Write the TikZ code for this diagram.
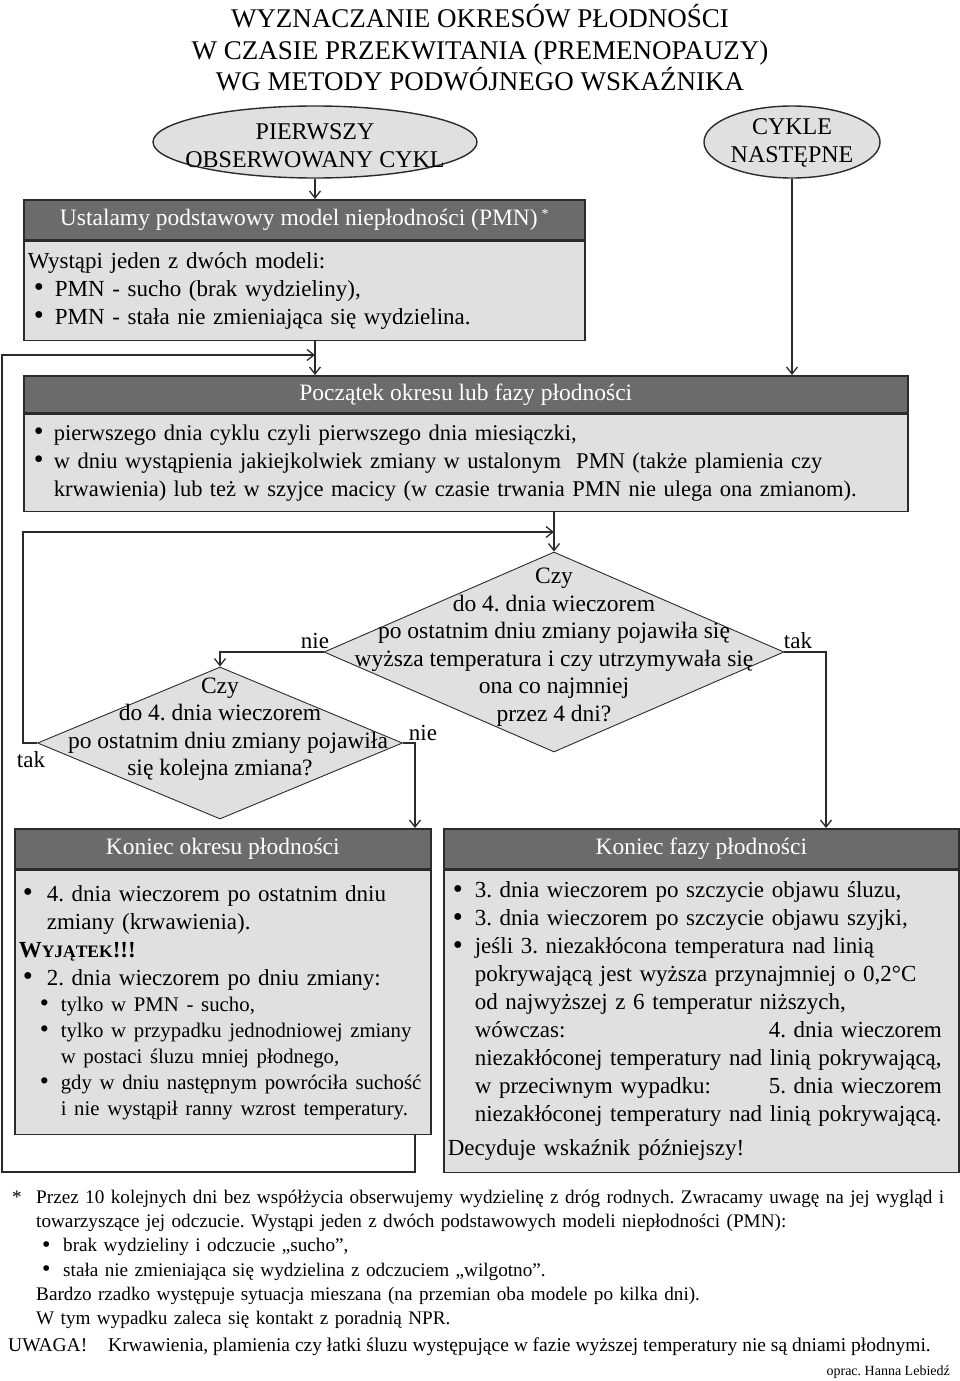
\documentclass[tikz,border=0pt]{standalone}
\usepackage{fontspec}
\setmainfont{Liberation Serif}
\usetikzlibrary{arrows.meta, positioning, shapes.geometric}
\definecolor{hdrgray}{HTML}{6B6B6B}
\definecolor{boxgray}{HTML}{E0E0E0}
\definecolor{edgegray}{HTML}{2B2B2B}
\frenchspacing
\hyphenpenalty=10000
\exhyphenpenalty=10000
\newcommand\bul[3]{\hangindent=#2\hangafter=1\noindent\makebox[#2][l]{\hspace*{#1}\raisebox{-0.3pt}{\scalebox{1.25}{\textbullet}}}#3\par}
\tikzset{
  hdr/.style={rectangle, draw=edgegray, fill=hdrgray, line width=1.6pt, text=white,
              anchor=north west, inner sep=0pt, font=\fontsize{23.5}{26}\selectfont},
  bdy/.style={rectangle, draw=edgegray, fill=boxgray, line width=1.6pt, anchor=north west,
              inner xsep=4pt, inner ysep=4pt, align=left, font=\fontsize{23}{28}\selectfont},
  oval/.style={ellipse, draw=edgegray, fill=boxgray, line width=1.4pt, inner sep=0pt},
  dmd/.style={diamond, draw=edgegray, fill=boxgray, line width=0.9pt, inner sep=0pt},
  qtxt/.style={align=center, font=\fontsize{23.5}{27.5}\selectfont, inner sep=0pt},
  lbl/.style={font=\fontsize{23}{26}\selectfont, inner sep=0pt},
  note/.style={align=left, inner sep=0pt, font=\fontsize{19.2}{24.2}\selectfont},
  arr/.style={line width=1.3pt, draw=edgegray, -{Straight Barb[length=7pt, width=11pt]}},
  ln/.style={line width=1.3pt, draw=edgegray},
}
\begin{document}
\begin{tikzpicture}[x=1pt, y=-1pt]
  \useasboundingbox (0,0) rectangle (960,1381);
  % title
  \node[align=center, font=\fontsize{27}{31.5}\selectfont] (title) at (480,48)
    {WYZNACZANIE OKRESÓW PŁODNOŚCI\\W CZASIE PRZEKWITANIA (PREMENOPAUZY)\\WG METODY PODWÓJNEGO WSKAŹNIKA};
  % start ovals
  \node[oval, minimum width=324pt, minimum height=72pt] (e1) at (315,142) {};
  \node[qtxt, font=\fontsize{24}{28}\selectfont] (e1t) at (315,146) {PIERWSZY\\OBSERWOWANY CYKL};
  \node[oval, minimum width=176pt, minimum height=72pt] (e2) at (792,142) {};
  \node[qtxt, font=\fontsize{24}{28}\selectfont] (e2t) at (792,143) {CYKLE\\NASTĘPNE};
  % basic infertile pattern
  \node[hdr, minimum width=561pt, minimum height=40pt] (pmnh) at (23,199)
    {Ustalamy podstawowy model niepłodności (PMN)\,\raisebox{7pt}{\fontsize{14}{14}\selectfont *}};
  \node[bdy, text width=553pt, minimum height=99pt] (pmnb) at (pmnh.south west)
    {Wystąpi jeden z dwóch modeli:\par
     \bul{6pt}{27pt}{PMN - sucho (brak wydzieliny),}
     \bul{6pt}{27pt}{PMN - stała nie zmieniająca się wydzielina.}};
  % start of fertile time
  \node[hdr, minimum width=884pt, minimum height=37pt] (pnh) at (23,375)
    {Początek okresu lub fazy płodności};
  \node[bdy, text width=876pt, minimum height=97pt, font=\fontsize{22.5}{28}\selectfont] (pnb) at (pnh.south west)
    {\bul{6pt}{26pt}{pierwszego dnia cyklu czyli pierwszego dnia miesiączki,}
     \bul{6pt}{26pt}{w dniu wystąpienia jakiejkolwiek zmiany w ustalonym~ PMN (także plamienia czy\newline
       krwawienia) lub też w szyjce macicy (w czasie trwania PMN nie ulega ona zmianom).}};
  % questions
  \node[dmd, minimum width=460pt, minimum height=200pt] (q1) at (554,652) {};
  \node[qtxt] (q1t) at ([yshift=5pt]q1.center)
    {Czy\\do 4. dnia wieczorem\\po ostatnim dniu zmiany pojawiła się\\wyższa temperatura i czy utrzymywała się\\ona co najmniej\\przez 4 dni?};
  \node[dmd, minimum width=365pt, minimum height=152pt] (q2) at (220,743) {};
  \node[qtxt] (q2t) at ([yshift=14pt]q2.center)
    {Czy\\do 4. dnia wieczorem\\\hspace*{16pt}po ostatnim dniu zmiany pojawiła\\się kolejna zmiana?};
  \node[lbl] (nie1) at (315,641) {nie};
  \node[lbl] (tak1) at (798,641) {tak};
  \node[lbl] (nie2) at (423,733) {nie};
  \node[lbl] (tak2) at (31,760) {tak};
  % end of fertile period
  \node[hdr, minimum width=416pt, minimum height=40pt] (okh) at (14,828)
    {Koniec okresu płodności};
  \node[bdy, text width=408pt, minimum height=264pt] (okb) at (okh.south west)
    {\bul{4pt}{28pt}{4. dnia wieczorem po ostatnim dniu\newline zmiany (krwawienia).}
     \textbf{W{\fontsize{17.5}{28}\selectfont YJĄTEK}!!!}\par
     \bul{4pt}{28pt}{2. dnia wieczorem po dniu zmiany:}
     {\fontsize{20.8}{26}\selectfont
     \bul{21pt}{42pt}{tylko w PMN - sucho,}
     \bul{21pt}{42pt}{tylko w przypadku jednodniowej zmiany\newline w postaci śluzu mniej płodnego,}
     \bul{21pt}{42pt}{gdy w dniu następnym powróciła suchość\newline i nie wystąpił ranny wzrost temperatury.}}};
  % end of fertile phase
  \node[hdr, minimum width=515pt, minimum height=40pt] (fzh) at (443,828)
    {Koniec fazy płodności};
  \node[bdy, text width=507pt, minimum height=302pt] (fzb) at (fzh.south west)
    {\bul{5pt}{27pt}{3. dnia wieczorem po szczycie objawu śluzu,}
     \bul{5pt}{27pt}{3. dnia wieczorem po szczycie objawu szyjki,}
     \bul{5pt}{27pt}{jeśli 3. niezakłócona temperatura nad linią\newline
       pokrywającą jest wyższa przynajmniej o 0,2°C\newline
       od najwyższej z 6 temperatur niższych,\newline
       \makebox[294pt][l]{wówczas:}4. dnia wieczorem\newline
       niezakłóconej temperatury nad linią pokrywającą,\newline
       \makebox[294pt][l]{w przeciwnym wypadku:}5. dnia wieczorem\newline
       niezakłóconej temperatury nad linią pokrywającą.}
     \vspace{6pt}Decyduje wskaźnik późniejszy!};
  % bend points
  \coordinate (join) at (e1.south |- 0,355);
  \coordinate (back) at (2,1172);
  \coordinate (bend1) at (826,652);
  \coordinate (bend2) at (415,743);
  \coordinate (edge2) at (23,532);
  \coordinate (loop2) at (q1.north |- 0,532);
  % connectors
  \draw[arr] (e1.south) -- (e1.south |- pmnh.north);
  \draw[arr] (pmnb.south -| e1.south) -- (e1.south |- pnh.north);
  \draw[arr] (e2.south) -- (e2.south |- pnh.north);
  \draw[arr] (pnb.south -| q1.north) -- (q1.north);
  \draw[arr] (q1.west) -| (q2.north);
  \draw[arr] (q1.east) -- (bend1) -- (bend1 |- fzh.north);
  \draw[arr] (q2.east) -- (bend2) -- (bend2 |- okh.north);
  \draw[arr] (q2.west) -| (edge2) -- (loop2);
  \draw[arr] (okb.south -| bend2) |- (back) |- (join);
  % footnote
  \node[note, anchor=north west, text width=952pt] (fn) at (8,1190)
    {\hangindent=28pt\hangafter=1\noindent\makebox[28pt][l]{\hspace*{4pt}*}Przez 10 kolejnych dni bez współżycia obserwujemy wydzielinę z dróg rodnych. Zwracamy uwagę na jej wygląd i\newline
     towarzyszące jej odczucie. Wystąpi jeden z dwóch podstawowych modeli niepłodności (PMN):\par
     \bul{34pt}{55pt}{brak wydzieliny i odczucie „sucho”,}
     \bul{34pt}{55pt}{stała nie zmieniająca się wydzielina z odczuciem „wilgotno”.}
     \hspace*{28pt}Bardzo rzadko występuje sytuacja mieszana (na przemian oba modele po kilka dni).\par
     \hspace*{28pt}W tym wypadku zaleca się kontakt z poradnią NPR.};
  \node[note, anchor=west, font=\fontsize{19.5}{24}\selectfont] (uwaga) at (8,1347)
    {\makebox[100pt][l]{UWAGA!}Krwawienia, plamienia czy łatki śluzu występujące w fazie wyższej temperatury nie są dniami płodnymi.};
  \node[note, anchor=east, font=\fontsize{14}{16}\selectfont] (autor) at (950,1372) {oprac. Hanna Lebiedź};
\end{tikzpicture}
\end{document}
